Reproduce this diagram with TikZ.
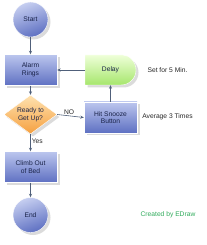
\documentclass[tikz,border=0pt]{standalone}
\usepackage{fontspec}
\setmainfont{Liberation Sans}
\usetikzlibrary{shapes.geometric,shadows,arrows.meta}
\definecolor{txt}{HTML}{1A2348}
\definecolor{lnc}{HTML}{50607A}
\definecolor{btop}{HTML}{BCC6EE}
\definecolor{bbot}{HTML}{5E70C2}
\definecolor{otop}{HTML}{FFE2B0}
\definecolor{obot}{HTML}{F5A040}
\definecolor{gtop}{HTML}{EEFFD8}
\definecolor{gbot}{HTML}{A6E66C}
\definecolor{edraw}{HTML}{2EAA5A}
\tikzset{
  shad/.style={drop shadow={shadow xshift=2.5pt,shadow yshift=-2.5pt,fill=black!14,opacity=1}},
  procbox/.style={rectangle,minimum width=53pt,minimum height=31pt,draw=white,line width=0.4pt,
    top color=btop,bottom color=bbot,shad,text=txt,align=center,font=\fontsize{6.7}{7.7}\selectfont},
  termcirc/.style={circle,minimum size=35pt,inner sep=0pt,draw=white,line width=0.4pt,
    top color=btop!85!white,bottom color=bbot,shading angle=20,shad,text=txt,font=\fontsize{6.7}{7.7}\selectfont},
  decide/.style={diamond,minimum width=53pt,minimum height=39pt,inner sep=0pt,aspect=1.36,draw=white,line width=0.4pt,
    top color=otop,bottom color=obot,shad,text=txt,align=center,font=\fontsize{6.7}{7.7}\selectfont},
  conn/.style={draw=lnc,line width=0.6pt,-{Stealth[length=3.5pt,width=3pt]}},
  lbl/.style={text=black!85,font=\fontsize{6.7}{7.7}\selectfont,inner sep=1pt},
}
\begin{document}
\begin{tikzpicture}[x=1pt,y=-1pt]
\useasboundingbox (0,0) rectangle (206,245);
\node[termcirc] (start) at (30.5,19.5) {Start};
\node[procbox] (alarm) at (30.5,70) {Alarm\\Rings};
\node[decide] (ready) at (30.5,114.5) {Ready to\\Get Up?};
\node[procbox] (climb) at (30.5,167) {Climb Out\\of Bed};
\node[termcirc] (end) at (30.5,215) {End};
\node[procbox] (snooze) at (110.5,117.5) {Hit Snooze\\Button};
% delay shape
\fill[black!14] (87.5,57.5) -- (123.5,57.5) .. controls (131.8,57.5) and (138.5,64.2) .. (138.5,72.5)
  .. controls (138.5,80.8) and (131.8,87.5) .. (123.5,87.5) -- (87.5,87.5) -- cycle;
\shade[top color=gtop,bottom color=gbot,draw=white,line width=0.4pt,rounded corners=2pt]
  (85,55) -- (121,55) [sharp corners] .. controls (129.3,55) and (136,61.7) .. (136,70)
  .. controls (136,78.3) and (129.3,85) .. (121,85) [rounded corners=0pt] -- (85,85) -- cycle;
\node[minimum width=51pt,minimum height=30pt,inner sep=0pt,text=txt,font=\fontsize{6.7}{7.7}\selectfont] (delay) at (110.5,70) {Delay};
% connectors
\draw[conn] (start) -- (alarm);
\draw[conn] (alarm) -- (ready);
\draw[conn] (ready) -- node[lbl,right,pos=0.4] {Yes} (climb);
\draw[conn] (climb) -- (end);
\draw[conn] (ready.east) -- node[lbl,above,pos=0.45] {NO} (snooze.west);
\draw[conn] (snooze.north) -- (snooze.north |- delay.south);
\draw[conn] (delay.west) -- (alarm.east);
% notes
\node[lbl] (n1) at (167.5,70) {Set for 5 Min.};
\node[lbl] (n2) at (167.5,117) {Average 3 Times};
\node[lbl,text=edraw] (n3) at (168,215) {Created by EDraw};
\end{tikzpicture}
\end{document}
